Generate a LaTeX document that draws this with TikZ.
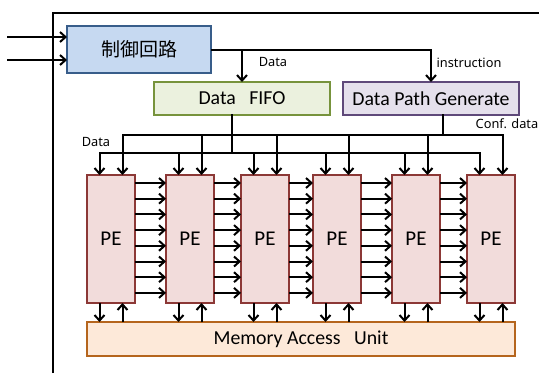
\documentclass[tikz,border=0pt]{standalone}
\usepackage{fontspec}
\setmainfont{Carlito}
\newfontfamily\cjkfont{Noto Sans CJK JP}
\newfontfamily\labelfont{Noto Sans}
\usetikzlibrary{arrows.meta,calc}

\definecolor{ctlfill}{HTML}{C6D9F1}
\definecolor{ctldraw}{HTML}{385D8A}
\definecolor{fifofill}{HTML}{EBF1DE}
\definecolor{fifodraw}{HTML}{77933C}
\definecolor{dpgfill}{HTML}{E5E0EC}
\definecolor{dpgdraw}{HTML}{5F497A}
\definecolor{pefill}{HTML}{F2DCDB}
\definecolor{pedraw}{HTML}{8C3836}
\definecolor{maufill}{HTML}{FDE9D9}
\definecolor{maudraw}{HTML}{B5651D}

\begin{document}
\begin{tikzpicture}[x=1pt,y=-1pt,
  wire/.style={line width=2pt, line cap=rect},
  arr/.style={line width=2pt, -{Straight Barb[length=5.5pt,width=10pt,line width=2pt]}},
  blk/.style={draw, line width=1.2pt, inner sep=0pt, outer sep=0pt, anchor=north west,
              font=\fontsize{19.8}{22}\selectfont},
  ctlbox/.style={blk, fill=ctlfill, draw=ctldraw, minimum width=144pt, minimum height=47pt,
                 font=\cjkfont\fontsize{19}{22}\selectfont},
  fifobox/.style={blk, fill=fifofill, draw=fifodraw, minimum width=176pt, minimum height=33pt},
  dpgbox/.style={blk, fill=dpgfill, draw=dpgdraw, minimum width=176pt, minimum height=33pt},
  pebox/.style={blk, fill=pefill, draw=pedraw, minimum width=48pt, minimum height=128pt,
                font=\fontsize{21}{24}\selectfont},
  maubox/.style={blk, fill=maufill, draw=maudraw, minimum width=428pt, minimum height=34pt},
  lbl/.style={inner sep=0pt, font=\labelfont\fontsize{12.8}{14}\selectfont}]

\useasboundingbox (0,0) rectangle (539,373);

% outer frame
\draw[line width=1.6pt] (53,373) -- (53,13) -- (539,13);

% blocks
\node[ctlbox] (ctl) at (67,26) {制御回路};
\node[fifobox] (fifo) at (154,82) {Data\ \ \ FIFO};
\node[dpgbox] (dpg) at (343,82) {Data Path Generate};
\foreach \i/\x in {1/87,2/166,3/241,4/313,5/392,6/467}{
  \node[pebox] (pe\i) at (\x,175) {PE};
  \coordinate (la\i) at (\x+12.5,153);
  \coordinate (ua\i) at (\x+35.5,135);
  \coordinate (ma\i) at (\x+12.5,322);
  \coordinate (mb\i) at (\x+35.5,322);
}
\node[maubox] (mau) at (87,322) {Memory Access\ \ \ Unit};

% inputs of the controller
\coordinate (in1) at (7,37);
\coordinate (in2) at (7,60);
\draw[arr] (in1) -- (in1 -| ctl.west);
\draw[arr] (in2) -- (in2 -| ctl.west);

% controller to FIFO and path generator
\draw[arr] (ctl.east) -| (dpg.north);
\draw[arr] (ctl.east -| fifo.north) -- (fifo.north);
\node[lbl] (ldata) at (273,62) {Data};
\node[lbl] (linst) at (469,63) {instruction};

% data bus (lower) and configuration bus (upper)
\coordinate (fo) at (232,153);
\coordinate (dpo) at (443,135);
\draw[wire] (ua1) -- (ua6);
\draw[wire] (dpg.south -| dpo) -- (dpo);
\draw[wire] (la1) -- (la6);
\draw[wire] (fifo.south -| fo) -- (fo);
\node[lbl] (lbus) at (96,142) {Data};
\node[lbl] (lconf) at (507,124) {Conf. data};

\foreach \i in {1,...,6}{
  \draw[arr] (la\i) -- (la\i |- pe\i.north);
  \draw[arr] (ua\i) -- (ua\i |- pe\i.north);
  \draw[arr] (la\i |- pe\i.south) -- (ma\i);
  \draw[arr] (mb\i) -- (mb\i |- pe\i.south);
}

% links between neighbouring PEs
\foreach \k in {0,...,7}{
  \coordinate (h\k) at (0,183+15.7*\k);
}
\foreach \i/\j in {1/2,2/3,3/4,4/5,5/6}{
  \foreach \k in {0,...,7}{
    \draw[arr] (pe\i.east |- h\k) -- (pe\j.west |- h\k);
  }
}
\end{tikzpicture}
\end{document}
